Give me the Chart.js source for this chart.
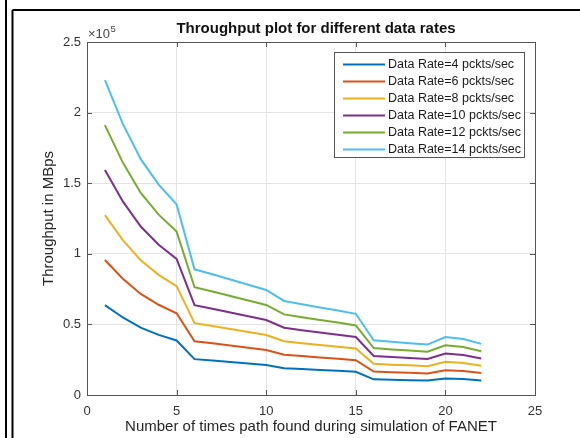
<!DOCTYPE html>
<html>
<head>
<meta charset="utf-8">
<script src="https://cdn.jsdelivr.net/npm/chart.js@4.4.1/dist/chart.umd.min.js"></script>
<style>
  html, body { margin: 0; padding: 0; background: #ffffff; }
  #wrap { width: 580px; height: 438px; position: relative; }
</style>
</head>
<body>
<div id="wrap"><canvas id="c" width="580" height="438"></canvas></div>
<script>
// ---- data ----
const xValues = [1, 2, 3, 4, 5, 6, 7, 8, 9, 10, 11, 12, 13, 14, 15, 16, 17, 18, 19, 20, 21, 22];
const rate4  = [63700, 54900, 47700, 42600, 38600, 25400, 24400, 23400, 22300, 21300, 19000, 18400, 17700, 17100, 16400, 11100, 10800, 10500, 10200, 11700, 11300, 10300];
const rate6  = [95600, 82300, 71600, 63900, 57900, 38100, 36600, 35100, 33500, 31900, 28500, 27600, 26600, 25600, 24600, 16600, 16200, 15700, 15300, 17600, 17000, 15500];
const rate8  = [127400, 109700, 95400, 85100, 77100, 50900, 48900, 46700, 44600, 42500, 38100, 36700, 35400, 34200, 32900, 22100, 21500, 21000, 20400, 23500, 22700, 20700];
const rate10 = [159300, 137100, 119300, 106400, 96400, 63600, 61100, 58400, 55800, 53100, 47600, 45900, 44300, 42700, 41100, 27600, 26900, 26200, 25500, 29400, 28400, 25900];
const rate12 = [191100, 164600, 143100, 127700, 115700, 76300, 73300, 70100, 66900, 63800, 57100, 55100, 53100, 51300, 49300, 33200, 32300, 31500, 30600, 35200, 34000, 31000];
const rate14 = [223000, 192000, 167000, 149000, 135000, 89000, 85500, 81800, 78100, 74400, 66600, 64300, 62000, 59800, 57500, 38700, 37700, 36700, 35700, 41100, 39700, 36200];
const seriesLabels = ['Data Rate=4 pckts/sec', 'Data Rate=6 pckts/sec', 'Data Rate=8 pckts/sec', 'Data Rate=10 pckts/sec', 'Data Rate=12 pckts/sec', 'Data Rate=14 pckts/sec'];
const seriesValues = [rate4, rate6, rate8, rate10, rate12, rate14];
const xTickValues = [0, 5, 10, 15, 20, 25];
const yTickValues = [0, 50000, 100000, 150000, 200000, 250000];
const titleText = 'Throughput plot for different data rates';
const xTitle = 'Number of times path found during simulation of FANET';
const yTitle = 'Throughput in MBps';

// ---- styling ----
const colors = ['#0072BD', '#D95319', '#EDB120', '#7E2F8E', '#77AC30', '#4DBEEE'];
const FONT = '"Liberation Sans", Arial, Helvetica, sans-serif';
const axisColor = '#555555';
const tickTextColor = '#333333';
const gridColor = '#e4e4e4';

const datasets = seriesValues.map((vals, i) => ({
  label: seriesLabels[i],
  data: vals.map((v, j) => ({ x: xValues[j], y: v })),
  borderColor: colors[i],
  backgroundColor: colors[i],
  borderWidth: 2,
  pointRadius: 0,
  tension: 0,
  fill: false
}));

const decorPlugin = {
  id: 'decor',
  beforeDraw(chart) {
    const ctx = chart.ctx;
    ctx.save();
    ctx.fillStyle = '#ffffff';
    ctx.fillRect(0, 0, chart.width, chart.height);
    ctx.restore();
  },
  afterDraw(chart) {
    const ctx = chart.ctx;
    const a = chart.chartArea;
    const xs = chart.scales.x, ys = chart.scales.y;
    ctx.save();
    // axes box
    ctx.strokeStyle = axisColor;
    ctx.lineWidth = 1;
    ctx.strokeRect(Math.round(a.left) + 0.5, Math.round(a.top) + 0.5, Math.round(a.right - a.left), Math.round(a.bottom - a.top));
    // inward tick marks
    const tl = 5;
    ctx.beginPath();
    xTickValues.forEach(v => {
      const px = Math.round(xs.getPixelForValue(v)) + 0.5;
      ctx.moveTo(px, a.bottom); ctx.lineTo(px, a.bottom - tl);
      ctx.moveTo(px, a.top); ctx.lineTo(px, a.top + tl);
    });
    yTickValues.forEach(v => {
      const py = Math.round(ys.getPixelForValue(v)) + 0.5;
      ctx.moveTo(a.left, py); ctx.lineTo(a.left + tl, py);
      ctx.moveTo(a.right, py); ctx.lineTo(a.right - tl, py);
    });
    ctx.stroke();

    // title
    ctx.fillStyle = '#111111';
    ctx.font = 'bold 15px ' + FONT;
    ctx.textAlign = 'center';
    ctx.textBaseline = 'middle';
    ctx.fillText(titleText, (a.left + a.right) / 2 + 5, 29);

    // exponent label
    ctx.fillStyle = '#444444';
    ctx.textAlign = 'left';
    ctx.textBaseline = 'alphabetic';
    ctx.font = '13px ' + FONT;
    const base = '\u00d710';
    ctx.fillText(base, a.left + 1, 38);
    const w = ctx.measureText(base).width;
    ctx.font = '9.5px ' + FONT;
    ctx.fillText('5', a.left + 1 + w + 0.5, 32);

    // legend
    const lx = 334.5, ly = 52.5, lw = 190, lh = 105;
    ctx.fillStyle = '#ffffff';
    ctx.fillRect(lx, ly, lw, lh);
    ctx.strokeStyle = '#555555';
    ctx.lineWidth = 1;
    ctx.strokeRect(lx, ly, lw, lh);
    ctx.font = '12.5px ' + FONT;
    ctx.textBaseline = 'middle';
    chart.data.datasets.forEach((ds, i) => {
      const y = 64.5 + i * 17;
      ctx.strokeStyle = ds.borderColor;
      ctx.lineWidth = 2;
      ctx.beginPath();
      ctx.moveTo(343, y); ctx.lineTo(385, y);
      ctx.stroke();
      ctx.fillStyle = '#1a1a1a';
      ctx.fillText(ds.label, 388, y + 0.5);
    });

    // outer frame lines of the figure
    ctx.strokeStyle = '#000000';
    ctx.lineWidth = 2;
    ctx.beginPath();
    ctx.moveTo(6, 0); ctx.lineTo(6, chart.height);
    ctx.moveTo(12.5, 10); ctx.lineTo(12.5, chart.height);
    ctx.moveTo(12.5, 10); ctx.lineTo(chart.width, 10);
    ctx.stroke();
    ctx.restore();
  }
};

new Chart(document.getElementById('c'), {
  type: 'line',
  data: { datasets },
  options: {
    responsive: false,
    animation: false,
    events: [],
    layout: { padding: { top: 42, right: 45, left: 0, bottom: 0 } },
    plugins: {
      legend: { display: false },
      title: { display: false },
      tooltip: { enabled: false }
    },
    scales: {
      x: {
        type: 'linear',
        min: 0, max: 25,
        afterBuildTicks(s) { s.ticks = xTickValues.map(v => ({ value: v })); },
        ticks: { color: tickTextColor, font: { family: FONT, size: 13 }, padding: 9, maxRotation: 0,
                 callback: v => String(v) },
        grid: { color: gridColor, drawTicks: false, lineWidth: 1 },
        border: { display: false },
        title: { display: true, text: xTitle, color: '#262626', font: { family: FONT, size: 15 }, padding: { top: 0, bottom: 2 } },
        afterFit(s) { s.height = 43; }
      },
      y: {
        type: 'linear',
        min: 0, max: 250000,
        afterBuildTicks(s) { s.ticks = yTickValues.map(v => ({ value: v })); },
        ticks: { color: tickTextColor, font: { family: FONT, size: 13 }, padding: 6,
                 callback: v => String(Math.round(v / 1000) / 100) },
        grid: { color: gridColor, drawTicks: false, lineWidth: 1 },
        border: { display: false },
        title: { display: true, text: yTitle, color: '#262626', font: { family: FONT, size: 15 }, padding: { top: 40, bottom: 0 } },
        afterFit(s) { s.width = 87; }
      }
    }
  },
  plugins: [decorPlugin]
});
</script>
</body>
</html>
